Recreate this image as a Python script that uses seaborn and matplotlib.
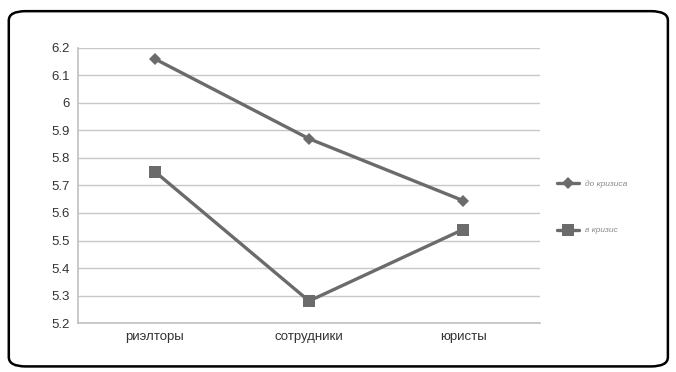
import matplotlib
matplotlib.use("Agg")
import matplotlib.pyplot as plt
import seaborn as sns
from matplotlib.patches import FancyBboxPatch

# ==========================================
# Data
# ==========================================

categories = ["риэлторы", "сотрудники", "юристы"]
before_crisis = [6.16, 5.87, 5.645]
during_crisis = [5.75, 5.28, 5.54]
series_labels = ["до кризиса", "в кризис"]
y_ticks = [5.2, 5.3, 5.4, 5.5, 5.6, 5.7, 5.8, 5.9, 6.0, 6.1, 6.2]
y_tick_labels = ["5.2", "5.3", "5.4", "5.5", "5.6", "5.7", "5.8", "5.9", "6", "6.1", "6.2"]

# ==========================================
# Style
# ==========================================

sns.set_style("white")
plt.rcParams['font.family'] = ['Liberation Sans Narrow', 'Liberation Sans', 'DejaVu Sans']

line_color = "#6b6b6b"

fig = plt.figure(figsize=(6.76, 3.72), dpi=100)
ax = fig.add_axes([0.1154, 0.1317, 0.6836, 0.7393])

sns.lineplot(x=categories, y=before_crisis, ax=ax, color=line_color,
             linewidth=2.4, marker="D", markersize=6, markeredgewidth=0,
             label=series_labels[0])
sns.lineplot(x=categories, y=during_crisis, ax=ax, color=line_color,
             linewidth=2.4, marker="s", markersize=9, markeredgewidth=0,
             label=series_labels[1])

ax.set_xlim(-0.5, 2.5)
ax.set_ylim(5.2, 6.2)
ax.set_yticks(y_ticks)
ax.set_yticklabels(y_tick_labels)
ax.yaxis.grid(True, color="#c8c8c8", linewidth=1)
ax.set_axisbelow(True)
ax.tick_params(axis="both", labelsize=9.5, colors="#333333", length=0, pad=6)

for side in ["top", "right"]:
    ax.spines[side].set_visible(False)
for side in ["left", "bottom"]:
    ax.spines[side].set_color("#c0c0c0")
    ax.spines[side].set_linewidth(1.2)

leg = ax.legend(loc="center left", bbox_to_anchor=(1.02, 0.42), frameon=False,
                fontsize=6, labelspacing=4.6, handlelength=2.6, handletextpad=0.8)
for t in leg.get_texts():
    t.set_color("#888888")
    t.set_fontstyle("italic")

# rounded frame around the whole picture
frame = FancyBboxPatch((0.013, 0.015), 0.975, 0.955,
                       boxstyle="round,pad=0,rounding_size=0.025",
                       transform=fig.transFigure, fill=False,
                       edgecolor="black", linewidth=1.8)
fig.patches.append(frame)

plt.savefig("out.png", dpi=100)
